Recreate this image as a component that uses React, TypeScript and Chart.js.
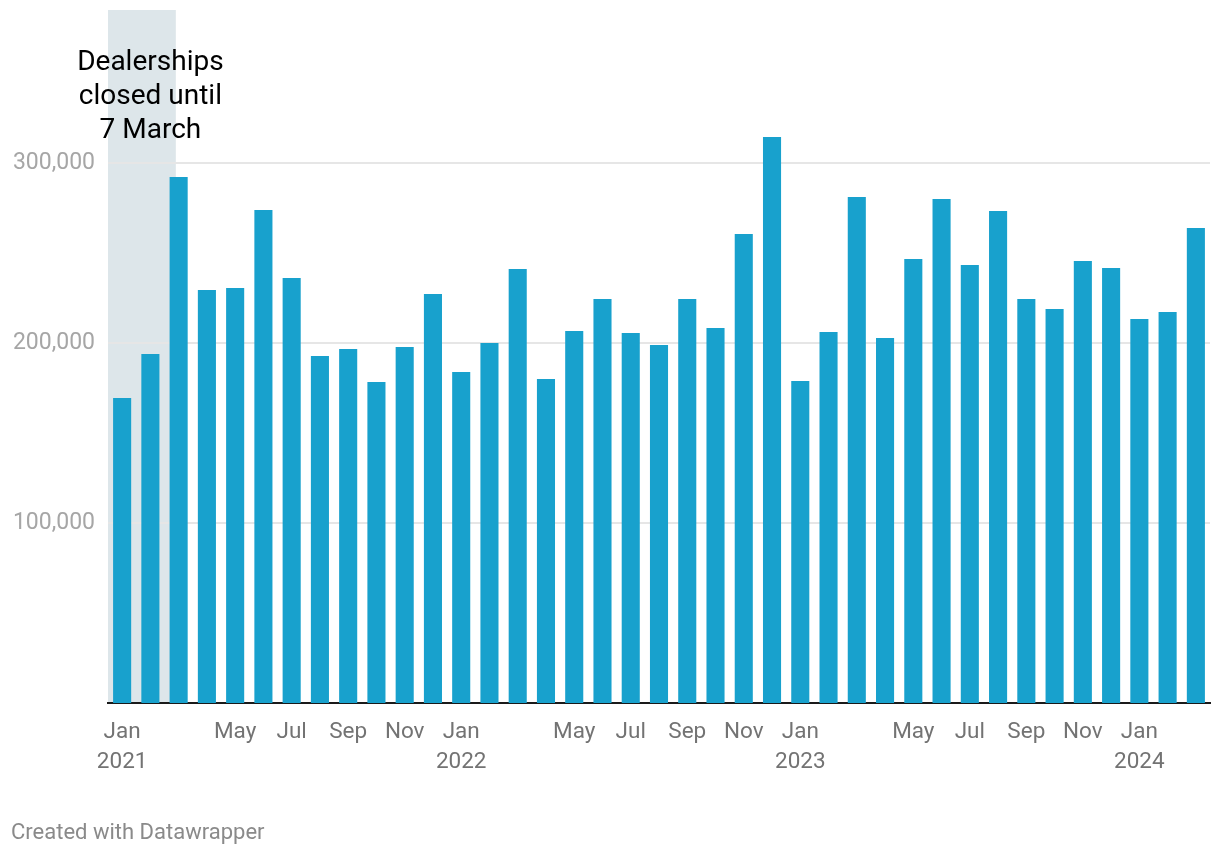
import React, { useEffect, useRef } from 'react';
import { Chart, registerables } from 'chart.js';

Chart.register(...registerables);

const monthNames = ['Jan', 'Feb', 'Mar', 'Apr', 'May', 'Jun', 'Jul', 'Aug', 'Sep', 'Oct', 'Nov', 'Dec'];
const years = [2021, 2022, 2023, 2024];
const categories: string[] = [];
years.forEach((y) => monthNames.forEach((m) => categories.push(`${m} ${y}`)));
categories.splice(39);

const registrations = [
  169400, 193900, 292200, 229400, 230600, 273900, 236100, 192800, 196700, 178300, 197800, 227200,
  183900, 200000, 241100, 180000, 206700, 224400, 205600, 198900, 224400, 208300, 260600, 314400,
  178900, 206100, 281100, 202800, 246700, 280000, 243300, 273300, 224400, 218900, 245600, 241700,
  213300, 217200, 263900,
];

const labelledMonths = ['Jan', 'May', 'Jul', 'Sep', 'Nov'];
const yTicks = [100000, 200000, 300000];
const yMax = 385000;

const annotationLines = ['Dealerships', 'closed until', '7 March'];
const shadeStart = -0.5;
const shadeEnd = 1.9;
const annotationAt = 1;

const BAR = '#18a1cd';
const FONT = 'Roboto, "Noto Sans", sans-serif';

function tickLabel(cat: string): string | string[] {
  const [m, y] = cat.split(' ');
  if (!labelledMonths.includes(m)) return '';
  if (m === 'Jan') return [m, y];
  return m;
}

const shadePlugin = {
  id: 'shade',
  beforeDraw(chart: any) {
    const { ctx, chartArea, scales } = chart;
    const x0 = scales.x.getPixelForValue(shadeStart);
    const x1 = scales.x.getPixelForValue(shadeEnd);
    ctx.save();
    ctx.fillStyle = '#dde6ea';
    ctx.fillRect(x0, chartArea.top, x1 - x0, chartArea.bottom - chartArea.top);
    ctx.restore();
  },
  afterDraw(chart: any) {
    const { ctx, scales } = chart;
    const cx = scales.x.getPixelForValue(annotationAt);
    ctx.save();
    ctx.font = `28px ${FONT}`;
    ctx.fillStyle = '#000';
    ctx.textAlign = 'center';
    ctx.textBaseline = 'alphabetic';
    annotationLines.forEach((line, i) => {
      ctx.fillText(line, cx, 70 + i * 34);
    });
    ctx.restore();
  },
};

export default function App() {
  const ref = useRef<HTMLCanvasElement | null>(null);

  useEffect(() => {
    document.body.style.margin = '0';
    if (!ref.current) return;
    const chart = new Chart(ref.current, {
      type: 'bar',
      data: {
        labels: categories,
        datasets: [
          {
            data: registrations,
            backgroundColor: BAR,
            borderWidth: 0,
            categoryPercentage: 1,
            barPercentage: 0.64,
          },
        ],
      },
      options: {
        animation: false,
        responsive: false,
        devicePixelRatio: 1,
        layout: { padding: { top: 10, right: 10, left: 0, bottom: 0 } },
        plugins: { legend: { display: false }, tooltip: { enabled: false } },
        scales: {
          x: {
            type: 'category',
            offset: true,
            grid: { display: false },
            border: { display: true, color: '#1a1a1a', width: 2 },
            ticks: {
              autoSkip: false,
              maxRotation: 0,
              minRotation: 0,
              padding: 6,
              color: '#737373',
              font: { family: FONT, size: 22.5, lineHeight: 1.33 },
              callback: (_v: any, i: number) => tickLabel(categories[i]),
            },
            afterFit: (s: any) => {
              s.height = 153;
              s.paddingLeft = 0;
              s.paddingRight = 0;
            },
          },
          y: {
            min: 0,
            max: yMax,
            grid: {
              drawTicks: false,
              lineWidth: 2,
              color: (c: any) => (yTicks.includes(c.tick?.value) ? '#e6e6e6' : 'rgba(0,0,0,0)'),
            },
            border: { display: false },
            afterBuildTicks: (s: any) => {
              s.ticks = yTicks.map((v) => ({ value: v }));
            },
            ticks: {
              padding: 13,
              color: '#a6a6a6',
              font: { family: FONT, size: 23 },
              callback: (v: any) => Number(v).toLocaleString('en-US'),
            },
            afterFit: (s: any) => {
              s.width = 108;
              s.paddingTop = 0;
              s.paddingBottom = 0;
            },
          },
        },
      },
      plugins: [shadePlugin],
    });
    return () => chart.destroy();
  }, []);

  return (
    <div style={{ position: 'relative', width: 1220, height: 856, background: '#fff' }}>
      <canvas ref={ref} width={1220} height={856} style={{ display: 'block' }} />
      <div
        style={{
          position: 'absolute',
          left: 11,
          top: 820,
          fontFamily: FONT,
          fontSize: 22,
          color: '#8a8a8a',
          lineHeight: '24px',
          whiteSpace: 'nowrap',
        }}
      >
        Created with Datawrapper
      </div>
    </div>
  );
}
